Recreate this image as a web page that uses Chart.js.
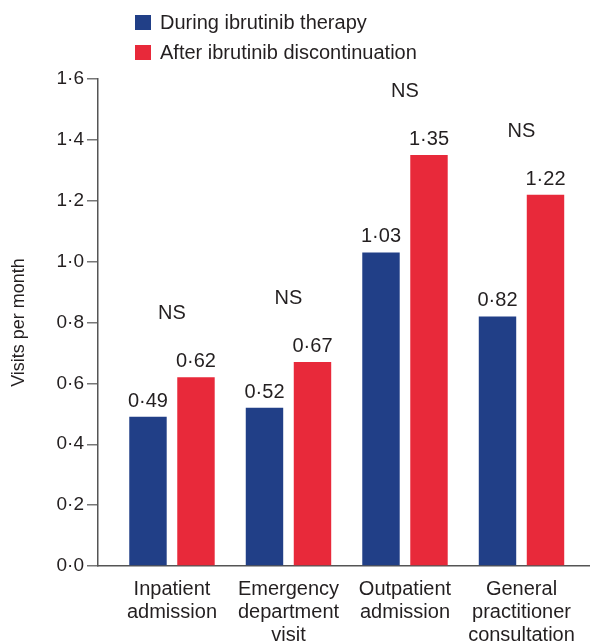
<!DOCTYPE html>
<html>
<head>
<meta charset="utf-8">
<script src="https://cdn.jsdelivr.net/npm/chart.js@4"></script>
<style>
  html, body { margin: 0; padding: 0; background: #fff; }
  #wrap { width: 590px; height: 644px; position: relative; }
</style>
</head>
<body>
<div id="wrap"><canvas id="chartVisits"></canvas></div>
<script>
// data
const categories = [
    ['Inpatient', 'admission'],
    ['Emergency', 'department', 'visit'],
    ['Outpatient', 'admission'],
    ['General', 'practitioner', 'consultation']
];
const seriesNames = ['During ibrutinib therapy', 'After ibrutinib discontinuation'];
const duringTherapy = [0.49, 0.52, 1.03, 0.82];
const afterDiscontinuation = [0.62, 0.67, 1.35, 1.22];
const significance = ['NS', 'NS', 'NS', 'NS'];
const yTicks = [0, 0.2, 0.4, 0.6, 0.8, 1.0, 1.2, 1.4, 1.6];

const BLUE = '#213F87';
const RED = '#E8293A';
const TEXT = '#231F20';
const FONT = '"Liberation Sans", Arial, sans-serif';

// decimal point is printed as a middle dot
function fmt(v, d) {
    return v.toFixed(d).replace('.', '\u00B7');
}

// value labels above bars + NS above each pair
const barLabels = {
    id: 'barLabels',
    afterDatasetsDraw(chart) {
        const ctx = chart.ctx;
        ctx.save();
        ctx.fillStyle = TEXT;
        ctx.font = '20px ' + FONT;
        ctx.textAlign = 'center';
        ctx.textBaseline = 'alphabetic';
        chart.data.datasets.forEach((ds, di) => {
            chart.getDatasetMeta(di).data.forEach((bar, i) => {
                ctx.fillText(fmt(ds.data[i].y, 2), bar.x, bar.y - 10);
            });
        });
        const xs = chart.scales.x, ys = chart.scales.y;
        significance.forEach((s, i) => {
            const top = Math.max(duringTherapy[i], afterDiscontinuation[i]);
            ctx.fillText(s, xs.getPixelForValue(i), ys.getPixelForValue(top) - 58);
        });
        ctx.restore();
    }
};

// two-row legend at the top left
const stackedLegend = {
    id: 'stackedLegend',
    afterDraw(chart) {
        const ctx = chart.ctx;
        ctx.save();
        ctx.font = '20px ' + FONT;
        ctx.textBaseline = 'middle';
        ctx.textAlign = 'left';
        chart.data.datasets.forEach((ds, i) => {
            const y = 15 + i * 30;
            ctx.fillStyle = ds.backgroundColor;
            ctx.fillRect(135, y, 16, 15);
            ctx.fillStyle = TEXT;
            ctx.fillText(ds.label, 160, y + 8);
        });
        ctx.restore();
    }
};

const ctx = document.getElementById('chartVisits').getContext('2d');
new Chart(ctx, {
    type: 'bar',
    data: {
        datasets: [{
            label: seriesNames[0],
            data: duringTherapy.map((v, i) => ({ x: i, y: v })),
            backgroundColor: BLUE
        }, {
            label: seriesNames[1],
            data: afterDiscontinuation.map((v, i) => ({ x: i, y: v })),
            backgroundColor: RED
        }]
    },
    options: {
        responsive: true,
        maintainAspectRatio: false,
        animation: false,
        categoryPercentage: 0.824,
        barPercentage: 0.78,
        layout: { padding: { top: 79, left: 0, right: 0, bottom: 0 } },
        plugins: {
            legend: { display: false },
            tooltip: { enabled: false }
        },
        scales: {
            x: {
                type: 'linear',
                offset: false,
                min: -0.635,
                max: 3.588,
                afterFit: s => {
                    s.height = 78;
                    s.paddingLeft = 0;
                    s.paddingRight = 0;
                },
                afterBuildTicks: s => {
                    s.ticks = s.ticks.filter(t => Number.isInteger(t.value) && t.value >= 0 && t.value < categories.length);
                },
                grid: { display: false, drawTicks: false, offset: false },
                border: { display: true, color: '#555', width: 1.5 },
                ticks: {
                    stepSize: 1,
                    includeBounds: false,
                    autoSkip: false,
                    maxRotation: 0,
                    padding: 12,
                    color: TEXT,
                    font: { family: FONT, size: 20, lineHeight: 1.15 },
                    callback: v => categories[v]
                }
            },
            y: {
                min: 0,
                max: 1.6,
                afterFit: s => { s.width = 98; },
                afterBuildTicks: s => { s.ticks = yTicks.map(v => ({ value: v })); },
                grid: { drawOnChartArea: false, drawTicks: true, tickLength: 11, color: '#777', lineWidth: 1.5 },
                border: { display: true, color: '#555', width: 1.5 },
                ticks: {
                    padding: 3,
                    color: TEXT,
                    font: { family: FONT, size: 19 },
                    callback: v => fmt(v, 1)
                },
                title: {
                    display: true,
                    text: 'Visits per month',
                    color: TEXT,
                    padding: { top: 8, bottom: 0 },
                    font: { family: FONT, size: 18 }
                }
            }
        }
    },
    plugins: [barLabels, stackedLegend]
});
</script>
</body>
</html>
